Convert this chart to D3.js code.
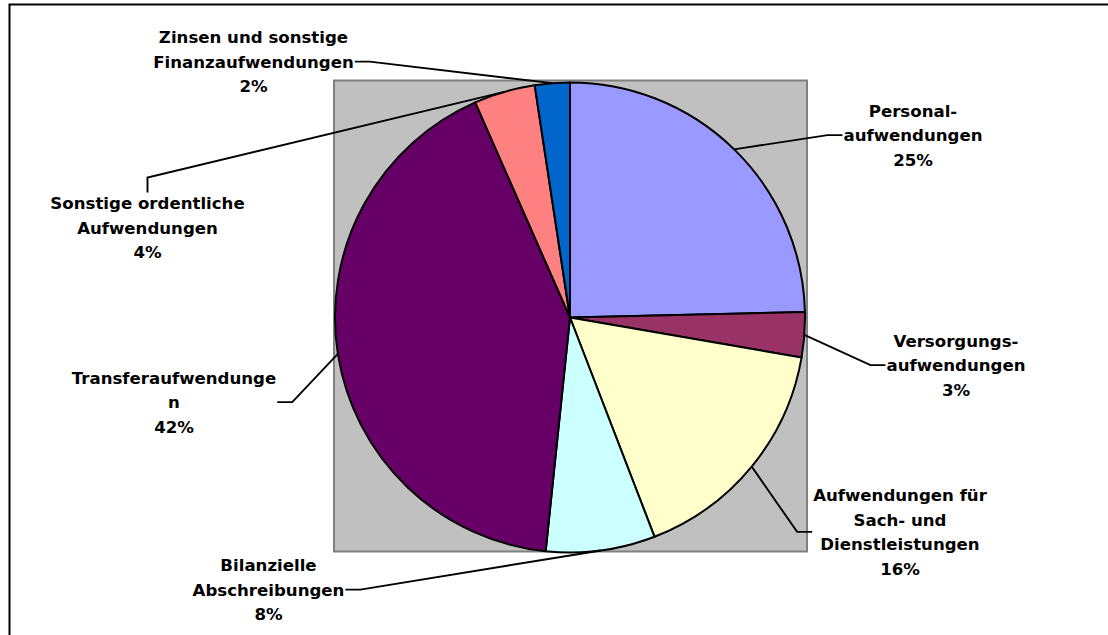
<!DOCTYPE html>
<html>
<head>
<meta charset="utf-8">
<script src="https://cdn.jsdelivr.net/npm/d3@7"></script>
<style>
  body { margin: 0; background: #fff; }
  text { font-family: "DejaVu Sans", Verdana, sans-serif; font-weight: bold; font-size: 16.6px; fill: #000; }
</style>
</head>
<body>
<div id="chart"></div>
<script>
// slice names (line breaks as in the picture) and values, clockwise from 12 o'clock
const categories = [
  "Personal-\naufwendungen",
  "Versorgungs-\naufwendungen",
  "Aufwendungen für\nSach- und\nDienstleistungen",
  "Bilanzielle\nAbschreibungen",
  "Transferaufwendunge\nn",
  "Sonstige ordentliche\nAufwendungen",
  "Zinsen und sonstige\nFinanzaufwendungen"
];
const values = [24.6, 3.1, 16.4, 7.5, 41.7, 4.2, 2.4];
const colors = ["#9999FF", "#993366", "#FFFFCC", "#CCFFFF", "#660066", "#FF8080", "#0066CC"];

// label placement: centre x, y of first line, side where leader attaches
const labelPos = [
  {x: 913, y: 110.5, side: "left"},
  {x: 956, y: 340.5, side: "left"},
  {x: 900, y: 495, side: "left"},
  {x: 268.5, y: 565, side: "right"},
  {x: 174, y: 377.5, side: "right"},
  {x: 147.5, y: 203, side: "top"},
  {x: 253.5, y: 37, side: "right"}
];

const W = 1108, H = 635;
const cx = 570, cy = 317.5, r = 235;
const lineH = 24.6;

const svg = d3.select("#chart").append("svg")
  .attr("width", W).attr("height", H);

// outer chart frame (runs off right/bottom)
svg.append("rect")
  .attr("x", 9.5).attr("y", 4.5).attr("width", 1120).attr("height", 660)
  .attr("fill", "#fff").attr("stroke", "#000").attr("stroke-width", 2);

// plot area
svg.append("rect")
  .attr("x", 334).attr("y", 80.5).attr("width", 473).attr("height", 471)
  .attr("fill", "#C0C0C0").attr("stroke", "#808080").attr("stroke-width", 2);

const pie = d3.pie().sort(null).value(d => d)(values);
const arc = d3.arc().innerRadius(0).outerRadius(r);
const total = d3.sum(values);

const g = svg.append("g").attr("transform", `translate(${cx},${cy})`);
g.selectAll("path")
  .data(pie)
  .join("path")
  .attr("d", arc)
  .attr("fill", (d, i) => colors[i])
  .attr("stroke", "#000")
  .attr("stroke-width", 2)
  .attr("stroke-linejoin", "round");

// labels
const labels = svg.append("g");
pie.forEach((d, i) => {
  const lines = categories[i].split("\n").concat([Math.round(d.value / total * 100) + "%"]);
  const p = labelPos[i];
  const t = labels.append("text")
    .attr("text-anchor", "middle")
    .attr("dominant-baseline", "central");
  lines.forEach((ln, k) => {
    t.append("tspan").attr("x", p.x).attr("y", p.y + k * lineH).text(ln);
  });
  const bb = t.node().getBBox();
  const midY = p.y + (lines.length - 1) * lineH / 2;
  const a = (d.startAngle + d.endAngle) / 2;
  const ex = cx + r * Math.sin(a), ey = cy - r * Math.cos(a);
  let pts;
  if (p.side === "left") {
    const x0 = bb.x - 1;
    pts = [[x0, midY], [x0 - 15, midY], [ex, ey]];
  } else if (p.side === "right") {
    const x0 = bb.x + bb.width + 1;
    pts = [[x0, midY], [x0 + 15, midY], [ex, ey]];
  } else {
    const y0 = bb.y - 1;
    pts = [[p.x, y0], [p.x, y0 - 15], [ex, ey]];
  }
  svg.append("path")
    .attr("d", d3.line()(pts))
    .attr("fill", "none")
    .attr("stroke", "#000")
    .attr("stroke-width", 1.9);
});
</script>
</body>
</html>
